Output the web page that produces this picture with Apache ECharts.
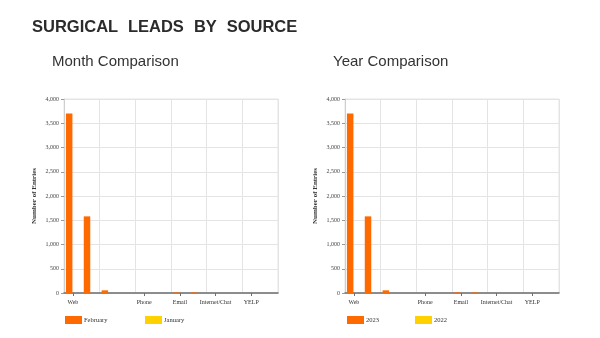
<!DOCTYPE html>
<html>
<head>
<meta charset="utf-8">
<script src="https://cdn.jsdelivr.net/npm/echarts@6/dist/echarts.min.js"></script>
<style>
  html, body { margin: 0; padding: 0; background: #ffffff; }
  #wrap { position: relative; width: 600px; height: 338px; }
  #main { position: absolute; left: 0; top: 0; width: 600px; height: 338px; }
  #heading { position: absolute; left: 32px; top: 16px; font-family: 'Liberation Sans', Arial, sans-serif; font-weight: bold; font-size: 16.5px; color: #2b2b2b; word-spacing: 5.5px; line-height: 20px; white-space: nowrap; z-index: 2; }
</style>
</head>
<body>
<div id="wrap">
  <div id="main"></div>
  <div id="heading">SURGICAL LEADS BY SOURCE</div>
</div>
<script>
// ---- data ----
const categories = ['Web', '', '', '', 'Phone', '', 'Email', '', 'Internet/Chat', '', 'YELP', ''];
const februaryValues = [3700, 1580, 55, 0, 0, 0, 12, 12, 0, 0, 0, 0];
const januaryValues  = [0, 0, 0, 0, 0, 0, 0, 0, 0, 0, 0, 0];
const year2023Values = [3700, 1580, 55, 0, 0, 0, 12, 12, 0, 0, 0, 0];
const year2022Values = [0, 0, 0, 0, 0, 0, 0, 0, 0, 0, 0, 0];
const yTicks = { min: 0, max: 4000, interval: 500 };
const leftTitle = 'Month Comparison';
const rightTitle = 'Year Comparison';
const yAxisName = 'Number of Entries';

// ---- styles ----
const ORANGE = '#ff6a00';
const YELLOW = '#ffd100';
const SERIF = "'Liberation Serif', 'DejaVu Serif', serif";
const SANS = "'Liberation Sans', Arial, sans-serif";

const chart = echarts.init(document.getElementById('main'), null, { renderer: 'canvas' });

const showEven = (idx, val) => idx % 2 === 0 && val !== '';

function xAxisFor(gridIndex) {
  return {
    type: 'category',
    gridIndex,
    data: categories,
    boundaryGap: true,
    axisLine: { show: true, lineStyle: { color: '#6e6e6e', width: 1.5 } },
    axisTick: { show: true, alignWithLabel: true, interval: showEven, length: 3, lineStyle: { color: '#6e6e6e' } },
    axisLabel: { interval: showEven, margin: 6, fontFamily: SERIF, fontSize: 6, color: '#333' },
    splitLine: { show: true, interval: (idx) => idx % 2 === 0, lineStyle: { color: '#e4e4e4', width: 1 } }
  };
}

function yAxisFor(gridIndex) {
  return {
    type: 'value',
    gridIndex,
    min: yTicks.min,
    max: yTicks.max,
    interval: yTicks.interval,
    name: yAxisName,
    nameLocation: 'middle',
    nameGap: 26,
    nameTextStyle: { fontFamily: SERIF, fontSize: 7, fontWeight: 'bold', color: '#333' },
    axisLine: { show: true, lineStyle: { color: '#cfcfcf' } },
    axisTick: { show: true, length: 3, lineStyle: { color: '#999' } },
    axisLabel: { margin: 5, fontFamily: SERIF, fontSize: 6, color: '#444',
      formatter: (v) => v.toLocaleString('en-US') },
    splitLine: { show: true, lineStyle: { color: '#e4e4e4', width: 1 } }
  };
}

function legendAt(name, left) {
  return {
    data: [name],
    left, top: 316,
    icon: 'rect',
    itemWidth: 17, itemHeight: 8,
    itemGap: 0,
    padding: 0,
    textStyle: { fontFamily: SERIF, fontSize: 6.5, color: '#333', padding: [0, 0, 0, -3] },
    selectedMode: false
  };
}

function barSeries(name, values, color, idx) {
  return {
    name, type: 'bar', data: values,
    xAxisIndex: idx, yAxisIndex: idx,
    barWidth: 6.5, barGap: '15%',
    itemStyle: { color },
    animation: false
  };
}

chart.setOption({
  animation: false,
  title: [
    { text: leftTitle, left: 52, top: 54, padding: 0,
      textStyle: { fontFamily: SANS, fontSize: 15, fontWeight: 'normal', color: '#333' } },
    { text: rightTitle, left: 333, top: 54, padding: 0,
      textStyle: { fontFamily: SANS, fontSize: 15, fontWeight: 'normal', color: '#333' } }
  ],
  grid: [
    { left: 64, top: 99, width: 214, height: 194, show: true, borderColor: '#e4e4e4', borderWidth: 1, containLabel: false },
    { left: 345, top: 99, width: 214, height: 194, show: true, borderColor: '#e4e4e4', borderWidth: 1, containLabel: false }
  ],
  xAxis: [xAxisFor(0), xAxisFor(1)],
  yAxis: [yAxisFor(0), yAxisFor(1)],
  legend: [
    legendAt('February', 65),
    legendAt('January', 145),
    legendAt('2023', 347),
    legendAt('2022', 415)
  ],
  series: [
    barSeries('February', februaryValues, ORANGE, 0),
    barSeries('January', januaryValues, YELLOW, 0),
    barSeries('2023', year2023Values, ORANGE, 1),
    barSeries('2022', year2022Values, YELLOW, 1)
  ]
});
</script>
</body>
</html>
